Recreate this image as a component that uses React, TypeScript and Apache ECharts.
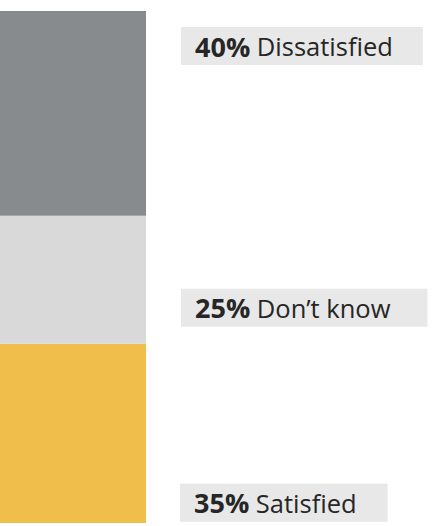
import React, { useEffect, useRef } from "react";
import * as echarts from "echarts";

const categories = ["Response"];
const seriesNames = ["Satisfied", "Don\u2019t know", "Dissatisfied"];
const seriesValues = [35, 25, 40];
const seriesColors = ["#F0BE4A", "#D9D9D9", "#888B8E"];
const labelOffsets: [number, number][] = [[180, 140], [181, 73], [181, 16]];
const labelRightPad = [31, 37, 30];

export default function App() {
  const ref = useRef<HTMLDivElement>(null);
  useEffect(() => {
    if (!ref.current) return;
    const chart = echarts.init(ref.current, null, { renderer: "svg" });
    chart.setOption({
      animation: false,
      grid: { left: 0, top: 11, bottom: 3, width: 146 },
      xAxis: {
        type: "category",
        data: categories,
        show: false,
      },
      yAxis: { type: "value", min: 0, max: 100, show: false },
      series: seriesNames.map((name, i) => ({
        name,
        type: "bar",
        stack: "total",
        barWidth: "100%",
        data: [seriesValues[i]],
        itemStyle: { color: seriesColors[i] },
        label: {
          show: true,
          position: labelOffsets[i],
          align: "left",
          verticalAlign: "top",
          backgroundColor: "#E8E8E8",
          padding: [4, labelRightPad[i], 4, 14],
          fontFamily: "'Open Sans', sans-serif",
          fontSize: 25.5,
          lineHeight: 30,
          color: "#262626",
          formatter: (p: any) => `{b|${p.value}%} ${p.seriesName}`,
          rich: {
            b: {
              fontFamily: "'Open Sans', sans-serif",
              fontSize: 27,
              lineHeight: 30,
              fontWeight: "bold",
              color: "#262626",
            },
          },
        },
      })),
    });
    return () => chart.dispose();
  }, []);
  return (
    <div
      ref={ref}
      style={{ position: "absolute", left: 0, top: 0, width: 442, height: 526 }}
    />
  );
}
